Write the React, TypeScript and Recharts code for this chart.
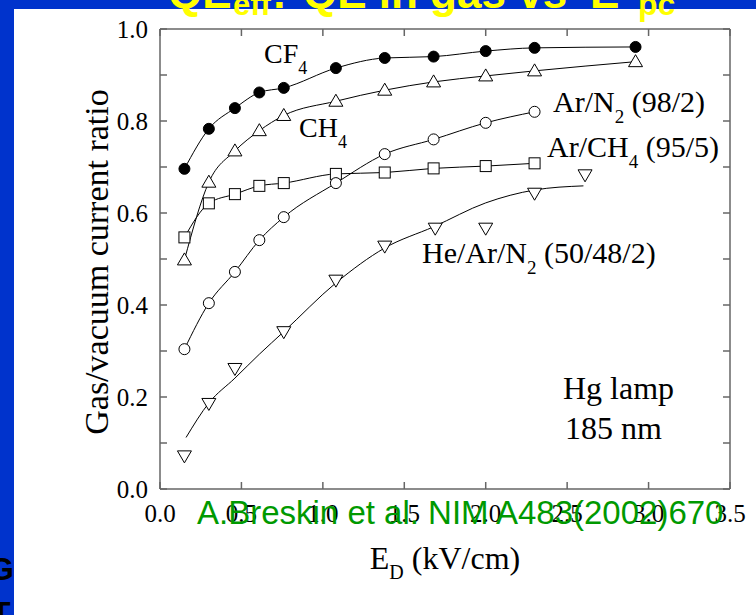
import React from 'react';
import { LineChart, Line, XAxis, YAxis } from 'recharts';

// ---- data ----
const cf4X = [0.15, 0.30, 0.46, 0.61, 0.76, 1.08, 1.38, 1.68, 2.00, 2.30, 2.92];
const cf4Y = [0.696, 0.783, 0.828, 0.862, 0.872, 0.915, 0.937, 0.940, 0.952, 0.959, 0.961];

const ch4X = [0.15, 0.30, 0.46, 0.61, 0.76, 1.08, 1.38, 1.68, 2.00, 2.30, 2.92];
const ch4Y = [0.498, 0.667, 0.735, 0.779, 0.812, 0.843, 0.867, 0.885, 0.898, 0.909, 0.929];

const arN2X = [0.15, 0.30, 0.46, 0.61, 0.76, 1.08, 1.38, 1.68, 2.00, 2.30];
const arN2Y = [0.304, 0.404, 0.472, 0.541, 0.591, 0.665, 0.728, 0.760, 0.796, 0.820];

const arCH4X = [0.15, 0.30, 0.46, 0.61, 0.76, 1.08, 1.38, 1.68, 2.00, 2.30];
const arCH4Y = [0.547, 0.621, 0.641, 0.659, 0.665, 0.685, 0.688, 0.697, 0.702, 0.708];

const heX = [0.15, 0.30, 0.46, 0.76, 1.08, 1.38, 1.69, 2.00, 2.30, 2.61];
const heY = [0.072, 0.186, 0.262, 0.342, 0.454, 0.528, 0.567, 0.567, 0.643, 0.683];

const heFitX = [0.16, 0.30, 0.46, 0.61, 0.76, 1.08, 1.38, 1.68, 2.00, 2.30, 2.60];
const heFitY = [0.112, 0.187, 0.241, 0.293, 0.342, 0.448, 0.524, 0.570, 0.622, 0.650, 0.659];

const xTicks = [0, 0.5, 1.0, 1.5, 2.0, 2.5, 3.0, 3.5];
const yTicks = [0, 0.1, 0.2, 0.3, 0.4, 0.5, 0.6, 0.7, 0.8, 0.9, 1.0];

const toPts = (xs: number[], ys: number[]) => xs.map((x, i) => ({ x, y: ys[i] }));

const cf4 = toPts(cf4X, cf4Y);
const ch4 = toPts(ch4X, ch4Y);
const arN2 = toPts(arN2X, arN2Y);
const arCH4 = toPts(arCH4X, arCH4Y);
const he = toPts(heX, heY);
const heFit = toPts(heFitX, heFitY);

const SERIF = "'Liberation Serif', 'Times New Roman', serif";
const SANS = "'Liberation Sans', Arial, sans-serif";
const AXIS = '#666';

// ---- markers ----
const filledCircle = (p: any) => (
  <circle key={`fc${p.index}`} cx={p.cx} cy={p.cy} r={5.5} fill="#000" stroke="#000" strokeWidth={1} />
);
const openCircle = (p: any) => (
  <circle key={`oc${p.index}`} cx={p.cx} cy={p.cy} r={5.5} fill="#fff" stroke="#000" strokeWidth={1} />
);
const openSquare = (p: any) => (
  <rect key={`sq${p.index}`} x={p.cx - 5.5} y={p.cy - 5.5} width={11} height={11} fill="#fff" stroke="#000" strokeWidth={1} />
);
const triUp = (p: any) => (
  <polygon
    key={`tu${p.index}`}
    points={`${p.cx},${p.cy - 7} ${p.cx - 7},${p.cy + 5} ${p.cx + 7},${p.cy + 5}`}
    fill="#fff"
    stroke="#000"
    strokeWidth={1}
  />
);
const triDown = (p: any) => (
  <polygon
    key={`td${p.index}`}
    points={`${p.cx - 7},${p.cy - 5} ${p.cx + 7},${p.cy - 5} ${p.cx},${p.cy + 7}`}
    fill="#fff"
    stroke="#000"
    strokeWidth={1}
  />
);

// ---- ticks (inward) ----
const leftTick = (props: any) => {
  const { x, y, payload, index } = props;
  const v = payload.value as number;
  const major = Math.round(v * 10) % 2 === 0;
  return (
    <g key={`lt${index}`}>
      <line x1={x} x2={x + 7} y1={y} y2={y} stroke={AXIS} strokeWidth={1.5} />
      {major && (
        <text x={x - 12} y={y + 8.5} textAnchor="end" fontFamily={SERIF} fontSize={25} fill="#000">
          {v.toFixed(1)}
        </text>
      )}
    </g>
  );
};
const rightTick = (props: any) => {
  const { x, y, index } = props;
  return <line key={`rt${index}`} x1={x} x2={x - 7} y1={y} y2={y} stroke={AXIS} strokeWidth={1.5} />;
};
const bottomTick = (props: any) => {
  const { x, y, payload, index } = props;
  const v = payload.value as number;
  return (
    <g key={`bt${index}`}>
      <line x1={x} x2={x} y1={y} y2={y - 7} stroke={AXIS} strokeWidth={1.5} />
      <text x={x} y={y + 33} textAnchor="middle" fontFamily={SERIF} fontSize={25} fill="#000">
        {v.toFixed(1)}
      </text>
    </g>
  );
};
const topTick = (props: any) => {
  const { x, y, index } = props;
  return <line key={`tt${index}`} x1={x} x2={x} y1={y} y2={y + 7} stroke={AXIS} strokeWidth={1.5} />;
};

export default function App() {
  const lineCommon = {
    xAxisId: 'b',
    yAxisId: 'l',
    dataKey: 'y',
    type: 'monotone' as const,
    stroke: '#000',
    strokeWidth: 1,
    isAnimationActive: false,
    activeDot: false,
  };
  return (
    <div
      style={{
        position: 'absolute',
        left: 0,
        top: 0,
        width: 756,
        height: 615,
        background: '#0033CC',
        overflow: 'hidden',
      }}
    >
      {/* slide text hidden behind the picture */}
      <svg width={756} height={615} style={{ position: 'absolute', left: 0, top: 0 }}>
        <text x={-11} y={580} fontFamily={SANS} fontWeight="bold" fontSize={32} fill="#000">G</text>
        <text x={-9} y={624} fontFamily={SANS} fontWeight="bold" fontSize={32} fill="#000">T</text>
      </svg>
      <div style={{ position: 'absolute', left: 14, top: 9, right: 0, bottom: 0, background: '#fff' }} />
      <div style={{ position: 'absolute', left: 0, top: 0 }}>
        <LineChart width={756} height={615} margin={{ top: 0, right: 0, bottom: 0, left: 0 }}>
          <XAxis
            xAxisId="b"
            dataKey="x"
            type="number"
            domain={[0, 3.5]}
            ticks={xTicks}
            interval={0}
            height={126}
            tickSize={0}
            tickMargin={0}
            tickLine={false}
            tick={bottomTick}
            axisLine={{ stroke: AXIS, strokeWidth: 1.5 }}
          />
          <XAxis
            xAxisId="t"
            orientation="top"
            dataKey="x"
            type="number"
            domain={[0, 3.5]}
            ticks={xTicks}
            interval={0}
            height={29}
            tickSize={0}
            tickMargin={0}
            tickLine={false}
            tick={topTick}
            axisLine={{ stroke: AXIS, strokeWidth: 1.5 }}
          />
          <YAxis
            yAxisId="l"
            type="number"
            domain={[0, 1]}
            ticks={yTicks}
            interval={0}
            width={160}
            tickSize={0}
            tickMargin={0}
            tickLine={false}
            tick={leftTick}
            axisLine={{ stroke: AXIS, strokeWidth: 1.5 }}
          />
          <YAxis
            yAxisId="r"
            orientation="right"
            type="number"
            domain={[0, 1]}
            ticks={yTicks}
            interval={0}
            width={26}
            tickSize={0}
            tickMargin={0}
            tickLine={false}
            tick={rightTick}
            axisLine={{ stroke: AXIS, strokeWidth: 1.5 }}
          />
          <Line
            xAxisId="t"
            yAxisId="r"
            data={heFit}
            dataKey="y"
            type="monotone"
            stroke="#000"
            strokeWidth={1}
            dot={false}
            activeDot={false}
            isAnimationActive={false}
          />
          <Line {...lineCommon} data={he} stroke="none" dot={triDown} />
          <Line {...lineCommon} data={arCH4} dot={openSquare} />
          <Line {...lineCommon} data={arN2} dot={openCircle} />
          <Line {...lineCommon} data={ch4} dot={triUp} />
          <Line {...lineCommon} data={cf4} dot={filledCircle} />
        </LineChart>
      </div>
      {/* annotations */}
      <svg width={756} height={615} style={{ position: 'absolute', left: 0, top: 0, pointerEvents: 'none' }}>
        <text fontFamily={SANS} fontWeight="bold" fill="#FFFF00">
          <tspan x={168} y={8} fontSize={44}>QE</tspan>
          <tspan x={233} y={15} fontSize={31}>eff</tspan>
          <tspan x={272} y={8} fontSize={44}>:</tspan>
          <tspan x={303} y={8} fontSize={44}>QE in gas vs</tspan>
          <tspan x={590} y={8} fontSize={44}>E</tspan>
          <tspan x={638} y={15} fontSize={32}>pc</tspan>
        </text>

        <text x={264} y={63} fontFamily={SERIF} fontSize={28} fill="#000">
          CF<tspan fontSize={18} dy={11}>4</tspan>
        </text>
        <text x={299} y={137} fontFamily={SERIF} fontSize={28} fill="#000">
          CH<tspan fontSize={18} dy={11}>4</tspan>
        </text>
        <text x={553} y={112} fontFamily={SERIF} fontSize={30} fill="#000">
          Ar/N<tspan fontSize={19} dy={11}>2</tspan>
          <tspan dy={-11}> (98/2)</tspan>
        </text>
        <text x={547} y={157} fontFamily={SERIF} fontSize={30} fill="#000">
          Ar/CH<tspan fontSize={19} dy={11}>4</tspan>
          <tspan dy={-11}> (95/5)</tspan>
        </text>
        <text x={422} y={263} fontFamily={SERIF} fontSize={30} fill="#000">
          He/Ar/N<tspan fontSize={19} dy={11}>2</tspan>
          <tspan dy={-11}> (50/48/2)</tspan>
        </text>
        <text x={563} y={399} fontFamily={SERIF} fontSize={32} fill="#000">Hg lamp</text>
        <text x={565} y={439} fontFamily={SERIF} fontSize={32} fill="#000">185 nm</text>

        <text
          x={108}
          y={262}
          transform="rotate(-90 108 262)"
          textAnchor="middle"
          fontFamily={SERIF}
          fontSize={34}
          fill="#000"
        >
          Gas/vacuum current ratio
        </text>
        <text x={445} y={569} textAnchor="middle" fontFamily={SERIF} fontSize={32} fill="#000">
          E<tspan fontSize={20} dy={10}>D</tspan>
          <tspan dy={-10}> (kV/cm)</tspan>
        </text>

        <text x={197} y={524} fontFamily={SANS} fontSize={33} fill="#009900">
          A.Breskin et al. NIM A483(2002)670
        </text>
      </svg>
    </div>
  );
}
